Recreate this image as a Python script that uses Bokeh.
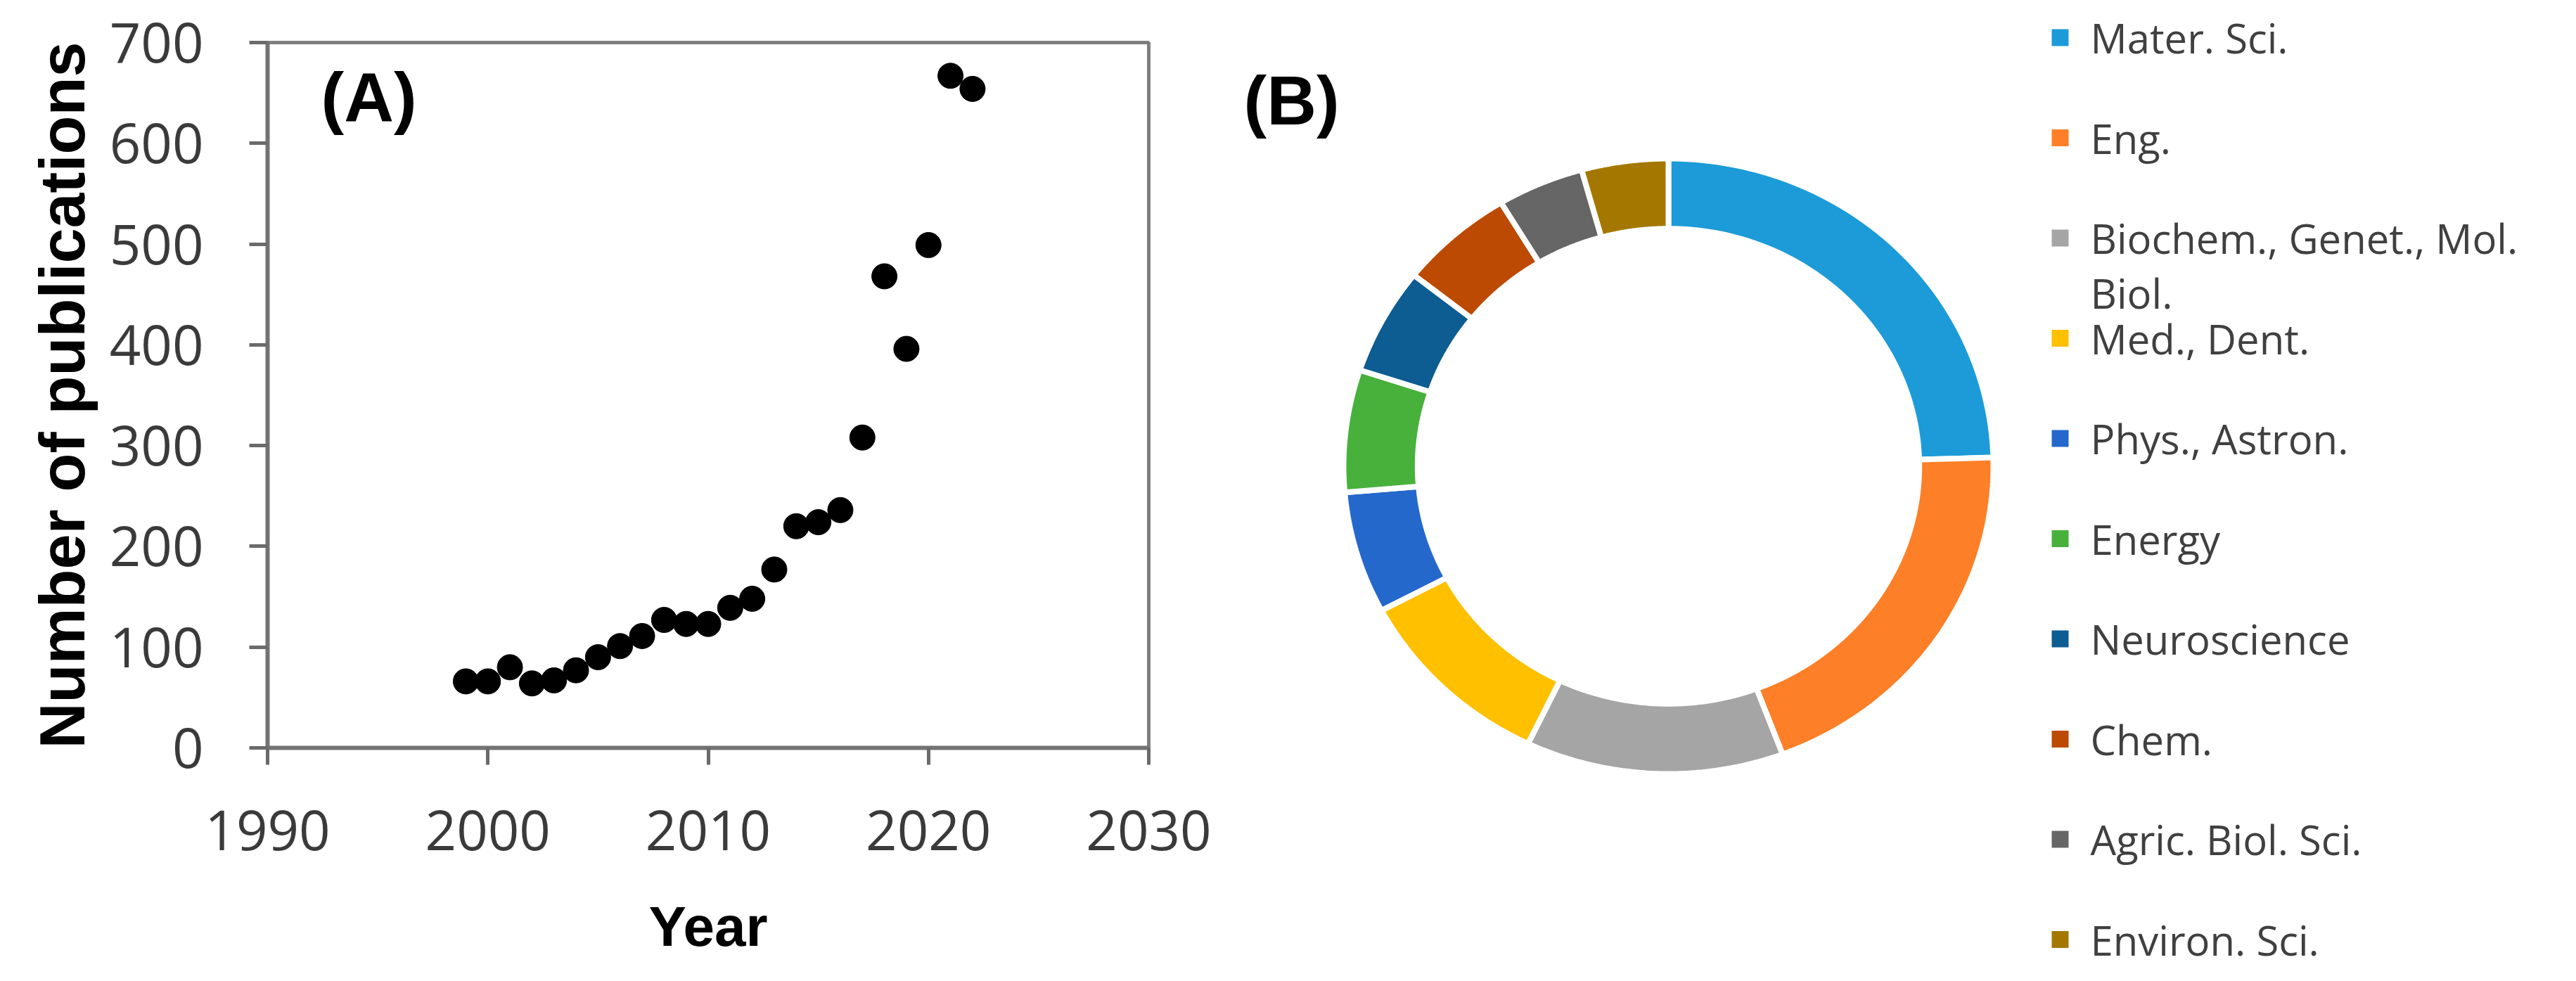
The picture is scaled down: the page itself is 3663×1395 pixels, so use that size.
import numpy as np
from bokeh.plotting import figure
from bokeh.models import Range1d, FixedTicker, Label
from bokeh.layouts import row
from bokeh.embed import file_html
from bokeh.resources import INLINE
from bokeh.core.properties import value

# ---------------- data ----------------
years = [1999, 2000, 2001, 2002, 2003, 2004, 2005, 2006, 2007, 2008, 2009, 2010,
         2011, 2012, 2013, 2014, 2015, 2016, 2017, 2018, 2019, 2020, 2021, 2022]
publications = [66, 66, 80, 64, 67, 77, 90, 101, 111, 127, 123, 123,
                139, 148, 177, 220, 224, 236, 308, 468, 396, 499, 667, 654]
x_ticks = [1990, 2000, 2010, 2020, 2030]
y_ticks = [0, 100, 200, 300, 400, 500, 600, 700]

subjects = ["Mater. Sci.", "Eng.", "Biochem., Genet., Mol.\nBiol.", "Med., Dent.",
            "Phys., Astron.", "Energy", "Neuroscience", "Chem.",
            "Agric. Biol. Sci.", "Environ. Sci."]
shares = [24.5, 19.7, 12.8, 10.1, 6.4, 6.4, 5.6, 5.7, 4.3, 4.3]
colors = ["#1c9bd8", "#fd7f27", "#a5a5a5", "#ffc000", "#2468cc",
          "#47b13b", "#0d5c92", "#bd4a02", "#666666", "#a47800"]

# ---------------- panel A ----------------
pa = figure(width=1760, height=1379, x_range=Range1d(1990, 2030), y_range=Range1d(0, 700),
            output_backend="svg", toolbar_location=None,
            min_border_left=380, min_border_right=127, min_border_top=60, min_border_bottom=316)
pa.xgrid.visible = False
pa.ygrid.visible = False
pa.outline_line_color = "#7f7f7f"
pa.outline_line_width = 5
pa.background_fill_color = "white"
pa.border_fill_color = "white"

pa.xaxis.ticker = FixedTicker(ticks=x_ticks)
pa.yaxis.ticker = FixedTicker(ticks=y_ticks)
pa.xaxis.axis_label = "Year"
pa.yaxis.axis_label = "Number of publications"
for ax in (pa.xaxis[0], pa.yaxis[0]):
    ax.axis_line_color = "#737373"
    ax.axis_line_width = 6
    ax.major_tick_line_color = "#6a6a6a"
    ax.major_tick_line_width = 5
    ax.major_tick_in = 0
    ax.minor_tick_in = 0
    ax.minor_tick_out = 0
    ax.major_label_text_font = "Open Sans"
    ax.major_label_text_font_size = "78px"
    ax.major_label_text_color = "#3a3a3a"
    ax.axis_label_text_font = "Liberation Sans"
    ax.axis_label_text_font_style = "bold"
    ax.axis_label_text_color = "black"
pa.yaxis.major_tick_out = 26
pa.xaxis.major_tick_out = 24
pa.yaxis.major_label_standoff = 65
pa.xaxis.major_label_standoff = 64
pa.yaxis.axis_label_text_font_size = "90px"
pa.xaxis.axis_label_text_font_size = "80px"
pa.yaxis.axis_label_standoff = 14
pa.xaxis.axis_label_standoff = 61

pa.scatter(years, publications, size=36, color="black")

pa.add_layout(Label(x=1992.43, y=646, text="(A)", text_font="Liberation Sans",
                    text_font_style="bold", text_font_size="98px", text_color="black",
                    text_baseline="middle", text_align="left"))

# ---------------- panel B ----------------
pb = figure(width=1887, height=1379, x_range=Range1d(1768, 3655), y_range=Range1d(1387, 8),
            output_backend="svg", toolbar_location=None,
            min_border_left=0, min_border_right=0, min_border_top=0, min_border_bottom=0)
pb.axis.visible = False
pb.xgrid.visible = False
pb.ygrid.visible = False
pb.outline_line_color = None

for fig in (pa, pb):
    try:
        fig.frame_align = False
    except Exception:
        pass

cx, cy, rx, ry, inner = 2380, 670.5, 462, 437.5, 0.772
total = float(sum(shares))
cum = np.concatenate([[0.0], np.cumsum(shares) / total])
xs, ys = [], []
for a0, a1 in zip(cum[:-1], cum[1:]):
    t = np.linspace(a0, a1, 80) * 2 * np.pi
    ox, oy = cx + rx * np.sin(t), cy - ry * np.cos(t)
    ix, iy = cx + inner * rx * np.sin(t[::-1]), cy - inner * ry * np.cos(t[::-1])
    xs.append(list(np.concatenate([ox, ix])))
    ys.append(list(np.concatenate([oy, iy])))
pb.patches(xs, ys, fill_color=colors, line_color="white", line_width=8)

# legend (manual, one row per subject)
leg_y = [61 + 142.5 * i for i in range(len(subjects))]
pb.rect(x=[2937] * len(subjects), y=leg_y, width=24, height=24, fill_color=colors, line_color=None)
tx, ty, tt = [], [], []
for yv, name in zip(leg_y, subjects):
    for k, line in enumerate(name.split("\n")):
        tx.append(2980)
        ty.append(yv + 78 * k)
        tt.append(line)
pb.text(x=tx, y=ty, text=tt, text_font=value("Open Sans"), text_font_size="58px",
        text_color="#404040", text_baseline="middle", text_align="left")

pb.add_layout(Label(x=1776, y=150, text="(B)", text_font="Liberation Sans",
                    text_font_style="bold", text_font_size="98px", text_color="black",
                    text_baseline="middle", text_align="left"))

layout = row(pa, pb)
open("out.html", "w").write(file_html(layout, INLINE))
